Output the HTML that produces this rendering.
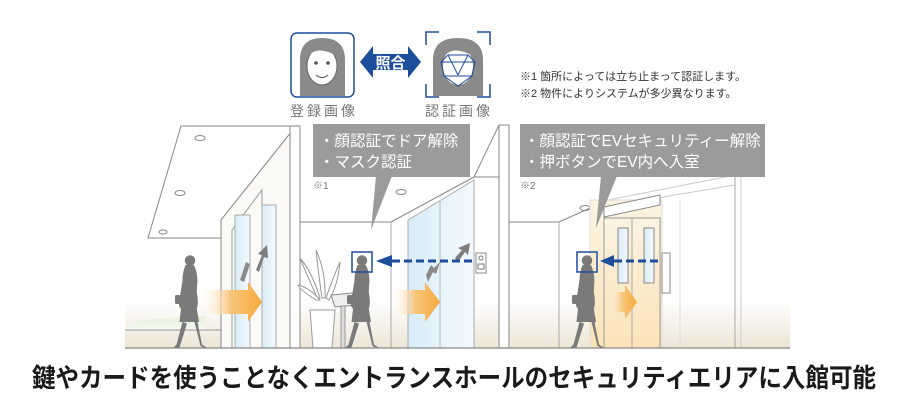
<!DOCTYPE html>
<html><head><meta charset="utf-8"><style>
html,body{margin:0;padding:0;background:#fff;}
svg{display:block;}
text{font-family:"Liberation Sans","Noto Sans CJK JP",sans-serif;}
</style></head><body>
<svg width="918" height="418" viewBox="0 0 918 418" xmlns="http://www.w3.org/2000/svg">
<defs>
<linearGradient id="glass" x1="0" y1="0" x2="1" y2="0"><stop offset="0" stop-color="#d8ecf8"/><stop offset="1" stop-color="#f4fafe"/></linearGradient>
<linearGradient id="org" x1="0" y1="0" x2="1" y2="0"><stop offset="0" stop-color="#fff" stop-opacity="0"/><stop offset="0.5" stop-color="#f8c57a"/><stop offset="1" stop-color="#f5a93c"/></linearGradient>
<linearGradient id="floorg" x1="0" y1="0" x2="0" y2="1"><stop offset="0" stop-color="#fff"/><stop offset="1" stop-color="#ece6d6"/></linearGradient>
<linearGradient id="ev" x1="0" y1="0" x2="0" y2="1"><stop offset="0" stop-color="#fbf3e2"/><stop offset="1" stop-color="#fbe3b8"/></linearGradient>
<linearGradient id="grass" x1="0" y1="0" x2="0" y2="1"><stop offset="0" stop-color="#e4efd8"/><stop offset="1" stop-color="#f6f9f1"/></linearGradient>
<g id="person" fill="#7a7a7a">
<circle cx="0" cy="-82" r="7"/>
<path d="M-6,-76 Q-10,-66 -10,-56 L-14,-30 Q-16,-20 -12,-18 L-14,0 L12,0 L9,-18 Q12,-24 9,-40 L10,-56 Q9,-70 5,-76 Z"/>
<path d="M-10,0 L-18,30 L-22,34 L-14,34 L-4,2 Z M6,0 L14,32 L18,34 L22,34 L16,30 L10,0 Z"/>
<rect x="-20" y="-36" width="9" height="12" rx="2"/>
</g>
</defs>

<rect x="125" y="300" width="665" height="48" fill="url(#floorg)"/>
<path d="M125,330 L140,320 L175,318 L205,316 L205,330 Z" fill="url(#grass)"/>

<polygon points="181,126 148,238 221,238 221,220 296,126" fill="#fff" stroke="#888" stroke-width="1"/>
<line x1="148" y1="238" x2="221" y2="238" stroke="#888"/>
<ellipse cx="200" cy="138" rx="5" ry="2.5" fill="none" stroke="#888"/>
<ellipse cx="180" cy="193" rx="5" ry="2.5" fill="none" stroke="#888"/>
<ellipse cx="163" cy="232" rx="4" ry="2" fill="none" stroke="#888"/>
<line x1="125" y1="330" x2="221" y2="330" stroke="#999"/>

<polygon points="221,220 296,126 296,348 221,348" fill="#fbfaf7" stroke="#888"/>
<polygon points="232,230 262,190 262,348 232,348" fill="none" stroke="#999"/>
<rect x="235" y="215" width="15" height="133" fill="url(#glass)" stroke="#aaa"/>
<rect x="262" y="205" width="14" height="143" fill="url(#glass)" stroke="#aaa"/>
<rect x="290" y="126" width="10" height="222" fill="#fff" stroke="#888"/>
<polygon points="256,270 262,255 258,254 267,245 268,258 264,257 259,272" fill="#7d7d7d"/>
<polygon points="240,280 246,262 250,264 244,282" fill="#8a8a8a"/>

<line x1="300" y1="222" x2="391" y2="222" stroke="#888"/>
<line x1="391" y1="222" x2="474" y2="177" stroke="#888"/>
<line x1="391" y1="222" x2="391" y2="348" stroke="#aaa"/>
<ellipse cx="401" cy="192" rx="5" ry="2.5" fill="none" stroke="#888"/>
<g stroke="#999" fill="#fff" stroke-width="1">
<path d="M318,300 Q305,270 300,258 Q312,272 320,298 Z"/>
<path d="M322,298 Q318,270 316,250 Q326,272 325,298 Z"/>
<path d="M326,298 Q334,275 340,262 Q338,285 329,300 Z"/>
<path d="M316,300 Q300,290 298,285 Q310,288 320,300 Z"/>
<path d="M310,310 L335,310 L332,348 L313,348 Z"/>
</g>
<polygon points="331,295 352,293 356,305 335,307" fill="#eee" stroke="#888"/>
<rect x="341" y="306" width="4" height="42" fill="#ddd" stroke="#999"/>
<polygon points="408,220 474,180 474,348 408,348" fill="url(#glass)" stroke="#aaa"/>
<line x1="440" y1="200" x2="440" y2="348" stroke="#bbb"/>
<polygon points="455,258 462,250 458,248 470,243 468,255 465,252 458,262" fill="#7d7d7d"/>
<polygon points="426,275 431,265 434,268 440,262 436,274 433,272 428,282" fill="#8a8a8a"/>
<rect x="476" y="253" width="10" height="20" fill="#fff" stroke="#888"/>
<circle cx="481" cy="258" r="2" fill="none" stroke="#777"/>
<rect x="478" y="264" width="6" height="5" fill="none" stroke="#777"/>

<polygon points="474,177 499,125 509,125 509,348 499,348 499,177" fill="#fff" stroke="#888"/>
<line x1="499" y1="125" x2="499" y2="348" stroke="#888"/>

<line x1="509" y1="222" x2="559" y2="222" stroke="#888"/>
<line x1="559" y1="222" x2="559" y2="348" stroke="#aaa"/>
<line x1="559" y1="222" x2="608" y2="200" stroke="#888"/>
<ellipse cx="585" cy="208" rx="5" ry="2.5" fill="none" stroke="#888"/>
<line x1="608" y1="200" x2="735" y2="175" stroke="#ccc"/>
<line x1="645" y1="200" x2="735" y2="185" stroke="#ccc"/>
<rect x="590" y="200" width="72" height="148" fill="url(#ev)" stroke="#ddd"/>
<polygon points="604,207 660,195 660,205 604,217" fill="#fff" stroke="#888"/>
<rect x="604" y="218" width="56" height="130" fill="url(#ev)" stroke="#999"/>
<line x1="632" y1="218" x2="632" y2="348" stroke="#aaa"/>
<rect x="618" y="228" width="10" height="55" fill="url(#glass)" stroke="#888"/>
<rect x="644" y="228" width="10" height="55" fill="url(#glass)" stroke="#888"/>
<rect x="662" y="253" width="8" height="40" fill="#fff" stroke="#888"/>
<line x1="735" y1="160" x2="735" y2="348" stroke="#aaa"/>
<line x1="741" y1="160" x2="741" y2="348" stroke="#ccc"/>
<line x1="680" y1="200" x2="680" y2="348" stroke="#ddd"/>

<polygon points="200,290 248,290 248,282 262,302 248,322 248,314 200,314" fill="url(#org)"/>
<polygon points="391,290 425,290 425,282 440,302 425,322 425,314 391,314" fill="url(#org)"/>
<polygon points="608,292 625,292 625,285 637,302 625,319 625,312 608,312" fill="url(#org)"/>

<use href="#person" transform="translate(190,322) scale(0.75)"/>
<use href="#person" transform="translate(362,322) scale(0.75)"/>
<use href="#person" transform="translate(587,322) scale(0.75)"/>

<rect x="352" y="252" width="20" height="20" fill="none" stroke="#1d4e9b" stroke-width="1.5"/>
<rect x="577" y="252" width="20" height="20" fill="none" stroke="#1d4e9b" stroke-width="1.5"/>
<polygon points="376,261 392,255 392,267" fill="#1d4e9b"/>
<line x1="392" y1="261" x2="474" y2="261" stroke="#1d4e9b" stroke-width="3" stroke-dasharray="8,4"/>
<polygon points="600,261 614,255 614,267" fill="#1d4e9b"/>
<line x1="614" y1="261" x2="660" y2="261" stroke="#1d4e9b" stroke-width="3" stroke-dasharray="8,4"/>

<line x1="125" y1="348" x2="790" y2="348" stroke="#888" stroke-width="1.2"/>

<rect x="313" y="124" width="157" height="53" fill="#9b9b9b"/>
<polygon points="376,176 392,176 371,230" fill="#9b9b9b"/>
<text x="319" y="146" font-size="15.5" fill="#fff">・顔認証でドア解除</text>
<text x="319" y="167" font-size="15.5" fill="#fff">・マスク認証</text>
<rect x="520" y="124" width="245" height="53" fill="#9b9b9b"/>
<polygon points="601,176 617,176 596,228" fill="#9b9b9b"/>
<text x="524" y="146" font-size="15.5" fill="#fff">・顔認証でEVセキュリティー解除</text>
<text x="524" y="167" font-size="15.5" fill="#fff">・押ボタンでEV内へ入室</text>
<text x="313" y="189" font-size="10" fill="#777">※1</text>
<text x="520" y="189" font-size="10" fill="#777">※2</text>

<rect x="291" y="33" width="63" height="64" rx="6" fill="#fff" stroke="#1d4e9b" stroke-width="1.5"/>
<path d="M300,96 L300,60 Q300,38 322,38 Q345,38 345,60 L345,96 Z" fill="#8a8a8a"/>
<ellipse cx="322" cy="66" rx="15" ry="19" fill="#fff" stroke="#666"/>
<path d="M307,58 Q316,44 337,56 Q330,46 322,44 Q310,46 307,58Z" fill="#8a8a8a"/>
<circle cx="316" cy="63" r="1.8" fill="#555"/><circle cx="328" cy="63" r="1.8" fill="#555"/>
<path d="M316,75 Q322,80 328,75" fill="none" stroke="#555"/>
<text x="290" y="116" font-size="14" fill="#777" letter-spacing="3">登録画像</text>

<polygon points="360,62 373,46 373,54 408,54 408,46 421,62 408,78 408,70 373,70 373,78" fill="#1d4e9b"/>
<text x="390.5" y="68" font-size="15" font-weight="bold" fill="#fff" text-anchor="middle">照合</text>

<g stroke="#1d4e9b" stroke-width="1.5" fill="none">
<path d="M426,45 L426,32 L439,32"/><path d="M477,32 L490,32 L490,45"/>
<path d="M426,84 L426,97 L439,97"/><path d="M477,97 L490,97 L490,84"/>
</g>
<path d="M433,96 L433,60 Q433,38 458,38 Q483,38 483,60 L483,96 Z" fill="#8a8a8a"/>
<ellipse cx="458" cy="66" rx="15" ry="19" fill="#fff"/>
<path d="M443,58 Q452,44 473,56 Q466,46 458,44 Q446,46 443,58Z" fill="#8a8a8a"/>
<g stroke="#1d4e9b" stroke-width="1" fill="none">
<polygon points="448,55 468,55 475,62 472,76 458,86 444,76 441,62"/>
<line x1="448" y1="55" x2="458" y2="75"/><line x1="468" y1="55" x2="458" y2="75"/>
<line x1="441" y1="62" x2="475" y2="62"/><line x1="444" y1="76" x2="472" y2="76"/>
</g>
<text x="425" y="116" font-size="14" fill="#777" letter-spacing="3">認証画像</text>

<text x="520" y="80" font-size="11" fill="#333">※1 箇所によっては立ち止まって認証します。</text>
<text x="520" y="97" font-size="11" fill="#333">※2 物件によりシステムが多少異なります。</text>

<text x="32" y="387" font-size="26" font-weight="bold" fill="#1a1a1a" textLength="844" lengthAdjust="spacingAndGlyphs">鍵やカードを使うことなくエントランスホールのセキュリティエリアに入館可能</text>
</svg>
</body></html>
